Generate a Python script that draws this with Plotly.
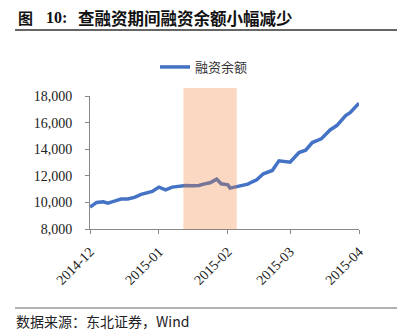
import plotly.graph_objects as go

# 融资余额（亿元）
dates = [
    "2014-12-01", "2014-12-04", "2014-12-07", "2014-12-09", "2014-12-12",
    "2014-12-15", "2014-12-18", "2014-12-21", "2014-12-24", "2014-12-27",
    "2014-12-29", "2015-01-01", "2015-01-04", "2015-01-07", "2015-01-11",
    "2015-01-13", "2015-01-16", "2015-01-19", "2015-01-21", "2015-01-24",
    "2015-01-27", "2015-01-29", "2015-02-01", "2015-02-02", "2015-02-04",
    "2015-02-07", "2015-02-10", "2015-02-12", "2015-02-14", "2015-02-17",
    "2015-02-19", "2015-02-21", "2015-02-24", "2015-03-01", "2015-03-05",
    "2015-03-08", "2015-03-11", "2015-03-15", "2015-03-19", "2015-03-22",
    "2015-03-26", "2015-03-28", "2015-04-01",
]
margin_balance = [
    9650, 10000, 10050, 9950, 10100,
    10250, 10250, 10375, 10600, 10700,
    10825, 11150, 10950, 11150, 11250,
    11275, 11250, 11275, 11375, 11475,
    11750, 11400, 11325, 11075, 11150,
    11250, 11375, 11550, 11700, 12150,
    12300, 12400, 13125, 13025, 13750,
    13925, 14500, 14775, 15450, 15775,
    16525, 16750, 17450,
]
series_name = "融资余额"

# 查融资期间
check_start = "2015-01-12"
check_end = "2015-02-05"

x_ticks = ["2014-12-01", "2015-01-01", "2015-02-01", "2015-03-01", "2015-04-01"]
x_tick_text = ["2014-12", "2015-01", "2015-02", "2015-03", "2015-04"]
y_ticks = [8000, 10000, 12000, 14000, 16000, 18000]

title_fig = "图"
title_num = "10:"
title_text = "查融资期间融资余额小幅减少"
source_text = "数据来源：东北证券，Wind"

W, H = 413, 335
L, R, T, B = 90, 54, 96, 106
pw, ph = W - L - R, H - T - B


def px(x):
    return (x - L) / pw


def py(y):
    return (H - B - y) / ph


serif = "'Liberation Serif', 'Times New Roman', serif"
cjk = "'Noto Sans CJK SC', sans-serif"
axis_grey = "#888888"

fig = go.Figure()
fig.add_trace(go.Scatter(
    x=dates, y=margin_balance, mode="lines", name=series_name,
    line=dict(color="#4472C4", width=3.5),
))

fig.add_shape(
    type="rect", xref="x", yref="paper",
    x0=check_start, x1=check_end, y0=0, y1=py(88),
    fillcolor="rgb(237,125,49)", opacity=0.3, line_width=0, layer="above",
)

# title rule and footer rule
fig.add_shape(type="line", xref="paper", yref="paper",
              x0=px(15), x1=px(397), y0=py(30), y1=py(30),
              line=dict(color="#333333", width=1.5))
fig.add_shape(type="line", xref="paper", yref="paper",
              x0=px(15), x1=px(397), y0=py(308), y1=py(308),
              line=dict(color="#999999", width=1.5))

# title pieces
fig.add_annotation(
    text="<b>" + title_fig + "</b>", xref="paper", yref="paper",
    x=px(16), y=py(18), xanchor="left", yanchor="middle", showarrow=False,
    font=dict(family=cjk, size=15, color="#111111"),
)
fig.add_annotation(
    text="<b>" + title_num + "</b>", xref="paper", yref="paper",
    x=px(44), y=py(18), xanchor="left", yanchor="middle", showarrow=False,
    font=dict(family=serif, size=16, color="#111111"),
)
fig.add_annotation(
    text="<b>" + title_text + "</b>", xref="paper", yref="paper",
    x=px(76), y=py(18), xanchor="left", yanchor="middle", showarrow=False,
    font=dict(family=cjk, size=16.5, color="#111111"),
)
fig.add_annotation(
    text=source_text, xref="paper", yref="paper",
    x=px(14), y=py(321), xanchor="left", yanchor="middle", showarrow=False,
    font=dict(family=cjk, size=14, color="#222222"),
)

fig.update_layout(
    width=W, height=H,
    margin=dict(l=L, r=R, t=T, b=B, pad=0),
    paper_bgcolor="white", plot_bgcolor="white",
    showlegend=True,
    legend=dict(
        orientation="h", x=px(155), y=py(67), xanchor="left", yanchor="middle",
        font=dict(family=cjk, size=13, color="#333333"),
        bgcolor="rgba(0,0,0,0)", itemwidth=30,
    ),
    xaxis=dict(
        type="date", range=["2014-12-01", "2015-04-01"],
        tickvals=x_ticks, ticktext=x_tick_text, tickangle=-45,
        showgrid=False, zeroline=False,
        showline=True, linecolor=axis_grey, linewidth=1,
        ticks="outside", ticklen=4, tickcolor=axis_grey,
        ticklabelstandoff=4,
        tickfont=dict(family=serif, size=14, color="#222222"),
    ),
    yaxis=dict(
        range=[8000, 18000], tickvals=y_ticks, tickformat=",d",
        showgrid=False, zeroline=False,
        showline=True, linecolor=axis_grey, linewidth=1,
        ticks="outside", ticklen=4, tickcolor=axis_grey,
        ticklabelstandoff=10,
        tickfont=dict(family=serif, size=14, color="#222222"),
    ),
)

fig.write_html("out.html")
